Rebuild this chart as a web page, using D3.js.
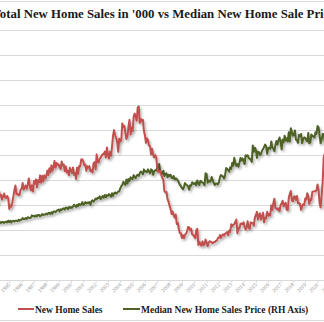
<!DOCTYPE html>
<html>
<head>
<meta charset="utf-8">
<script src="https://cdn.jsdelivr.net/npm/d3@7"></script>
<style>
  html, body { margin: 0; padding: 0; background: #fff; }
  svg { display: block; }
</style>
</head>
<body>
<div id="chart"></div>
<script>
// chart text
const title = "Total New Home Sales in '000 vs Median New Home Sale Price";
const seriesNames = ["New Home Sales", "Median New Home Sales Price (RH Axis)"];

// monthly data, first value is Jan 1994
const firstMonth = new Date(1994, 0, 1);

// new home sales, '000 (SAAR)
const sales = [
  612, 614, 716, 668, 682, 643, 668, 692, 661, 657, 671, 654, // 1994
  569, 596, 586, 620, 667, 719, 756, 687, 690, 678, 681, 720, // 1995
  733, 776, 723, 742, 756, 730, 766, 812, 749, 716, 757, 709, // 1996
  792, 771, 805, 742, 798, 782, 837, 779, 833, 789, 838, 812, // 1997
  832, 875, 840, 893, 862, 917, 874, 904, 952, 899, 936, 923, // 1998
  925, 901, 887, 948, 917, 923, 871, 909, 860, 873, 837, 898, // 1999
  873, 856, 900, 841, 857, 808, 899, 850, 912, 908, 965, 966, // 2000
  947, 917, 923, 873, 910, 899, 911, 869, 880, 859, 935, 943, // 2001
  886, 1005, 943, 940, 969, 979, 996, 1006, 1010, 1027, 980, 1060, // 2002
  998, 972, 1025, 994, 1062, 1155, 1199, 1158, 1136, 1107, 1026, 1131, // 2003
  1106, 1120, 1253, 1223, 1232, 1177, 1128, 1150, 1230, 1281, 1164, 1220, // 2004
  1190, 1306, 1331, 1307, 1274, 1381, 1389, 1257, 1288, 1270, 1282, 1194, // 2005
  1156, 1097, 1133, 1120, 1076, 1070, 1005, 1049, 1001, 981, 999, 983, // 2006
  893, 865, 868, 874, 839, 817, 800, 709, 701, 705, 647, 628, // 2007
  593, 567, 528, 547, 519, 499, 524, 448, 457, 408, 375, 374, // 2008
  336, 358, 336, 361, 371, 387, 424, 423, 398, 410, 363, 361, // 2009
  347, 334, 397, 409, 281, 306, 286, 274, 309, 280, 287, 323, // 2010
  301, 270, 298, 310, 307, 301, 295, 302, 303, 314, 314, 336, // 2011
  336, 360, 337, 355, 365, 354, 371, 374, 384, 359, 396, 385, // 2012
  446, 429, 443, 446, 467, 483, 374, 418, 413, 448, 452, 445, // 2013
  462, 426, 403, 423, 470, 419, 409, 461, 457, 453, 436, 500, // 2014
  520, 545, 484, 517, 533, 484, 505, 538, 461, 497, 496, 546, // 2015
  513, 529, 517, 597, 560, 616, 650, 576, 575, 562, 573, 549, // 2016
  600, 613, 634, 589, 608, 617, 563, 558, 658, 690, 712, 636, // 2017
  630, 665, 670, 641, 672, 612, 615, 608, 561, 590, 606, 599, // 2018
  652, 644, 694, 673, 607, 645, 641, 706, 707, 711, 709, 719, // 2019
  764, 716, 615, 580, 678, 791, 979, 1011                     // 2020
];

// median new home sale price, $'000
const price = [
  130, 127, 131, 131, 129, 131, 131, 129, 131, 132, 130, 134, // 1994
  131, 134, 130, 133, 134, 132, 134, 134, 133, 136, 134, 136, // 1995
  136, 140, 138, 138, 140, 138, 142, 141, 140, 141, 146, 144, // 1996
  145, 143, 146, 144, 147, 147, 144, 146, 149, 147, 148, 148, // 1997
  150, 148, 151, 152, 149, 153, 150, 155, 155, 153, 156, 158, // 1998
  159, 155, 160, 158, 161, 162, 159, 164, 163, 160, 165, 163, // 1999
  165, 163, 166, 170, 168, 165, 170, 167, 172, 169, 171, 176, // 2000
  170, 172, 176, 173, 175, 174, 176, 170, 178, 180, 177, 180, // 2001
  184, 182, 186, 185, 189, 183, 187, 190, 186, 192, 187, 192, // 2002
  190, 194, 192, 188, 196, 190, 196, 198, 195, 197, 200, 200, // 2003
  207, 212, 215, 222, 218, 215, 227, 218, 228, 224, 232, 230, // 2004
  228, 237, 233, 230, 236, 238, 235, 241, 245, 243, 239, 250, // 2005
  245, 246, 244, 250, 245, 241, 250, 248, 238, 246, 248, 247, // 2006
  255, 248, 262, 245, 243, 240, 247, 235, 240, 241, 232, 238, // 2007
  235, 238, 231, 230, 235, 227, 230, 228, 225, 220, 215, 212, // 2008
  208, 205, 210, 219, 216, 214, 212, 204, 214, 213, 221, 218, // 2009
  217, 220, 214, 225, 219, 215, 224, 222, 220, 219, 214, 241, // 2010
  240, 220, 225, 222, 223, 233, 226, 219, 215, 218, 218, 216, // 2011
  221, 232, 237, 235, 234, 229, 236, 253, 251, 248, 245, 255, // 2012
  251, 265, 258, 276, 264, 258, 262, 256, 265, 276, 270, 275, // 2013
  269, 262, 282, 280, 282, 276, 274, 272, 267, 304, 290, 299, // 2014
  294, 276, 290, 289, 283, 285, 292, 296, 301, 306, 302, 285, // 2015
  298, 299, 296, 313, 300, 297, 291, 305, 314, 306, 316, 322, // 2016
  312, 295, 317, 311, 326, 315, 320, 313, 334, 313, 343, 335, // 2017
  326, 328, 338, 317, 316, 310, 328, 325, 330, 309, 318, 322, // 2018
  321, 316, 313, 332, 309, 311, 329, 326, 324, 322, 334, 330, // 2019
  348, 345, 327, 309, 317, 330, 330, 313                      // 2020
];

// year labels on the x axis
const tickYears = [1995, 1996, 1997, 1998, 1999, 2000, 2001, 2002, 2003, 2004,
  2005, 2006, 2007, 2008, 2009, 2010, 2011, 2012, 2013, 2014,
  2015, 2016, 2017, 2018, 2019, 2020, 2021];

const width = 324, height = 322;
const plot = { top: 30, bottom: 280 };
const redColor = "#c0504d";
const greenColor = "#4f6228";
const gridColor = "#d9d9d9";

const months = d3.timeMonth.range(firstMonth, d3.timeMonth.offset(firstMonth, sales.length));
const salesData = months.map((d, i) => ({ date: d, value: sales[i] }));
const priceData = months.map((d, i) => ({ date: d, value: price[i] }));

const svg = d3.select("#chart").append("svg")
  .attr("width", width)
  .attr("height", height);

const defs = svg.append("defs");
const shadow = defs.append("filter")
  .attr("id", "shadow")
  .attr("x", "-20%").attr("y", "-20%")
  .attr("width", "140%").attr("height", "140%");
shadow.append("feDropShadow")
  .attr("dx", 1.5).attr("dy", 2)
  .attr("stdDeviation", 1)
  .attr("flood-color", "#000")
  .attr("flood-opacity", 0.3);

// frame lines above the title and under the legend
svg.append("line")
  .attr("x1", 0).attr("x2", width)
  .attr("y1", 1.5).attr("y2", 1.5)
  .attr("stroke", gridColor);
svg.append("line")
  .attr("x1", 0).attr("x2", width)
  .attr("y1", 320.5).attr("y2", 320.5)
  .attr("stroke", gridColor);

// scales: the chart is a crop, so x starts a bit before 1995
const x = d3.scaleTime()
  .domain([new Date(1995, 0, 1), new Date(2020, 0, 1)])
  .range([9.3, 9.3 + 25 * 12.33]);
const yLeft = d3.scaleLinear().domain([0, 2000]).range([plot.bottom, plot.top]);
const yRight = d3.scaleLinear().domain([0, 565]).range([plot.bottom, plot.top]);

// horizontal gridlines from the left axis
svg.append("g")
  .attr("class", "grid")
  .call(d3.axisLeft(yLeft).tickValues(d3.range(200, 2001, 200)).tickSize(-width).tickFormat(""))
  .call(g => g.select(".domain").remove())
  .call(g => g.selectAll("line").attr("stroke", gridColor).attr("stroke-width", 1));

// x axis
const xAxis = svg.append("g")
  .attr("transform", `translate(0,${plot.bottom})`)
  .call(d3.axisBottom(x)
    .tickValues(tickYears.map(y => new Date(y, 0, 1)))
    .tickSize(3)
    .tickFormat(d3.timeFormat("%Y")));
xAxis.select(".domain").attr("stroke", gridColor).attr("d", `M0,0.5H${width}`);
xAxis.selectAll("line").attr("stroke", gridColor);
xAxis.selectAll("text")
  .attr("font-family", "Liberation Serif")
  .attr("font-size", 5.5)
  .attr("fill", "#8c8c8c")
  .attr("text-anchor", "end")
  .attr("dy", 0)
  .attr("y", 0)
  .attr("transform", "translate(1,5) rotate(-45)");

// lines
const line = (yScale) => d3.line()
  .x(d => x(d.date))
  .y(d => yScale(d.value));

svg.append("path")
  .datum(priceData)
  .attr("fill", "none")
  .attr("stroke", greenColor)
  .attr("stroke-width", 2)
  .attr("stroke-linejoin", "round")
  .attr("filter", "url(#shadow)")
  .attr("d", line(yRight));

svg.append("path")
  .datum(salesData)
  .attr("fill", "none")
  .attr("stroke", redColor)
  .attr("stroke-width", 2)
  .attr("stroke-linejoin", "round")
  .attr("filter", "url(#shadow)")
  .attr("d", line(yLeft));

// title (cut off at both sides, as in the reference)
svg.append("text")
  .attr("x", -7.5)
  .attr("y", 18)
  .attr("font-family", "Liberation Serif")
  .attr("font-weight", "bold")
  .attr("font-size", 12.8)
  .attr("fill", "#1a1a1a")
  .text(title);

// legend
const legend = svg.append("g").attr("transform", "translate(0,309)");
const legendItems = [
  { name: seriesNames[0], color: redColor, x1: 18, x2: 34, tx: 35 },
  { name: seriesNames[1], color: greenColor, x1: 123, x2: 140, tx: 141 }
];
legendItems.forEach(item => {
  legend.append("line")
    .attr("x1", item.x1).attr("x2", item.x2)
    .attr("y1", 0).attr("y2", 0)
    .attr("stroke", item.color)
    .attr("stroke-width", 2);
  legend.append("text")
    .attr("x", item.tx)
    .attr("y", 3.5)
    .attr("font-family", "Liberation Serif")
    .attr("font-weight", "bold")
    .attr("font-size", 9.5)
    .attr("fill", "#1a1a1a")
    .text(item.name);
});
</script>
</body>
</html>
